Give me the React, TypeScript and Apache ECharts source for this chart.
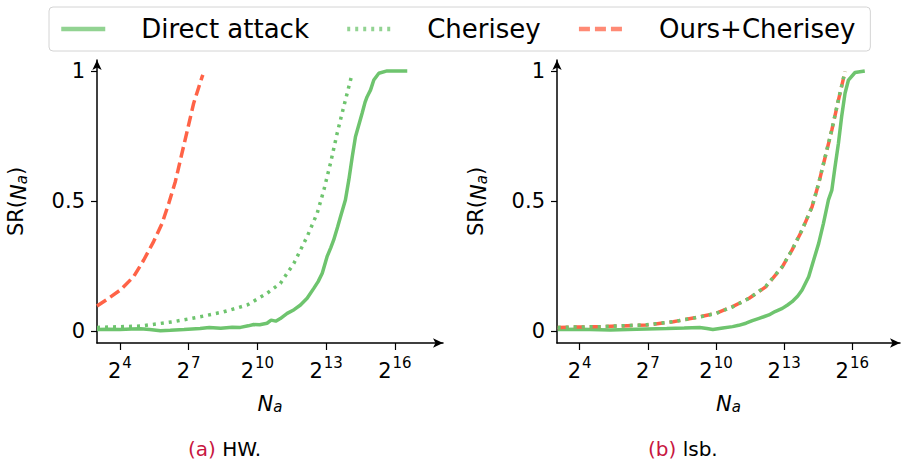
import React, { useEffect, useRef } from "react";
import * as echarts from "echarts";

const seriesNames = ["Direct attack", "Cherisey", "Ours+Cherisey"];
const xTicks = [4, 7, 10, 13, 16];
const yTicks = [0, 0.5, 1];
const captions = [["(a)", " HW."], ["(b)", " lsb."]];

// x values are log2(N_a)
const hwDirect = [
  [3.0, 0.006], [3.5, 0.007], [4.0, 0.006], [4.5, 0.008], [4.9, 0.009], [5.3, 0.006], [5.77, 0.001],
  [6.2, 0.003], [6.8, 0.006], [7.5, 0.010], [7.9, 0.014], [8.4, 0.011], [8.9, 0.015], [9.26, 0.014],
  [9.6, 0.020], [9.84, 0.025], [10.1, 0.024], [10.42, 0.030], [10.6, 0.042], [10.8, 0.038], [11.0, 0.048],
  [11.3, 0.068], [11.6, 0.082], [11.88, 0.100], [12.17, 0.126], [12.46, 0.164], [12.65, 0.19], [12.83, 0.222],
  [13.04, 0.286], [13.2, 0.32], [13.33, 0.35], [13.5, 0.40], [13.63, 0.44], [13.84, 0.504], [13.99, 0.581],
  [14.14, 0.67], [14.28, 0.747], [14.45, 0.80], [14.57, 0.837], [14.7, 0.88], [14.79, 0.901], [14.94, 0.927],
  [15.08, 0.965], [15.3, 0.991], [15.66, 1.0], [16.54, 1.0],
];
const hwCherisey = [
  [3.0, 0.014], [4.89, 0.019], [6.35, 0.036], [7.51, 0.055], [8.53, 0.074], [9.55, 0.1], [10.42, 0.145],
  [11.0, 0.183], [11.59, 0.26], [12.17, 0.363], [12.61, 0.453], [12.9, 0.542], [13.19, 0.645], [13.48, 0.76],
  [13.77, 0.863], [14.14, 0.991],
];
const hwOurs = [
  [3.0, 0.096], [3.44, 0.122], [4.02, 0.158], [4.6, 0.209], [5.04, 0.273], [5.47, 0.344], [5.84, 0.414],
  [6.13, 0.49], [6.42, 0.575], [6.64, 0.658], [6.93, 0.767], [7.22, 0.876], [7.59, 0.978], [7.62, 0.985],
];
const lsbDirect = [
  [3.03, 0.006], [4.0, 0.007], [5.35, 0.004], [6.5, 0.007], [7.83, 0.010], [8.6, 0.012], [9.28, 0.014],
  [9.6, 0.010], [9.86, 0.006], [10.3, 0.012], [10.73, 0.017], [11.0, 0.022], [11.32, 0.030], [11.6, 0.040],
  [11.9, 0.049], [12.1, 0.055], [12.33, 0.062], [12.6, 0.075], [12.92, 0.087], [13.15, 0.10], [13.35, 0.113],
  [13.6, 0.135], [13.79, 0.158], [14.08, 0.209], [14.3, 0.273], [14.52, 0.337], [14.73, 0.414], [14.95, 0.504],
  [15.10, 0.542], [15.24, 0.632], [15.39, 0.722], [15.53, 0.824], [15.68, 0.914], [15.83, 0.965],
  [16.12, 0.994], [16.55, 1.0],
];
const lsbCherisey = [
  [3.03, 0.014], [4.92, 0.017], [6.95, 0.024], [8.12, 0.036], [9.28, 0.054], [10.01, 0.068], [10.73, 0.093],
  [11.46, 0.126], [12.19, 0.172], [12.92, 0.248], [13.35, 0.312], [13.79, 0.39], [14.23, 0.478], [14.52, 0.568],
  [14.81, 0.672], [15.10, 0.775], [15.39, 0.89], [15.68, 0.998],
];
const lsbOurs = [
  [3.03, 0.014], [4.92, 0.017], [6.95, 0.023], [8.12, 0.036], [9.28, 0.055], [10.01, 0.068], [10.73, 0.094],
  [11.46, 0.126], [12.19, 0.17], [12.92, 0.247], [13.35, 0.312], [13.79, 0.388], [14.23, 0.478], [14.52, 0.568],
  [14.81, 0.67], [15.10, 0.773], [15.39, 0.888], [15.68, 0.997],
];

const GREEN = "#6ec46e";
const RED = "#ff6347";
const FONT = "DejaVu Sans";

export default function App() {
  const ref = useRef<HTMLDivElement>(null);
  useEffect(() => {
    if (!ref.current) return;
    const chart = echarts.init(ref.current, null, { renderer: "svg" });
    const grids = [
      { left: 97, top: 60, width: 346, height: 283 },
      { left: 557, top: 60, width: 343, height: 283 },
    ];
    const mkX = (i: number) => ({
      type: "value",
      gridIndex: i,
      min: 3,
      max: 18.1,
      splitLine: { show: false },
      axisLine: { onZero: false, lineStyle: { color: "#000", width: 1.5 }, symbol: ["none", "arrow"], symbolSize: [7, 10] },
      axisTick: { customValues: xTicks, length: 7, lineStyle: { color: "#000", width: 1.2 } },
      axisLabel: {
        customValues: xTicks,
        margin: 12,
        formatter: (v: number) => `{b|2}{s|${v}}`,
        rich: {
          b: { fontSize: 21, fontFamily: FONT, color: "#000", lineHeight: 26, verticalAlign: "bottom" },
          s: { fontSize: 15, fontFamily: FONT, color: "#000", lineHeight: 26, verticalAlign: "top", padding: [0, 0, 0, 1] },
        },
      },
      name: "{i|N}{sub|a}",
      nameLocation: "middle",
      nameGap: 45,
      nameTextStyle: {
        rich: {
          i: { fontSize: 21, fontStyle: "italic", fontFamily: FONT, color: "#000", lineHeight: 26, verticalAlign: "bottom" },
          sub: { fontSize: 15, fontStyle: "italic", fontFamily: FONT, color: "#000", lineHeight: 22, verticalAlign: "bottom" },
        },
      },
    });
    const mkY = (i: number) => ({
      type: "value",
      gridIndex: i,
      min: -0.046,
      max: 1.042,
      splitLine: { show: false },
      axisLine: { onZero: false, lineStyle: { color: "#000", width: 1.5 }, symbol: ["none", "arrow"], symbolSize: [7, 10] },
      axisTick: { customValues: yTicks, length: 6, lineStyle: { color: "#000", width: 1.2 } },
      axisLabel: {
        customValues: yTicks,
        margin: 12,
        fontSize: 21,
        fontFamily: FONT,
        color: "#000",
        formatter: (v: number) => (v === 0 ? "0" : v === 1 ? "1" : String(v)),
      },
      name: "SR({i|N}{sub|a})",
      nameLocation: "middle",
      nameRotate: 90,
      nameGap: 68,
      nameTextStyle: {
        fontSize: 21,
        fontFamily: FONT,
        color: "#000",
        rich: {
          i: { fontSize: 21, fontStyle: "italic", fontFamily: FONT, color: "#000", lineHeight: 26, verticalAlign: "bottom" },
          sub: { fontSize: 15, fontStyle: "italic", fontFamily: FONT, color: "#000", lineHeight: 22, verticalAlign: "bottom" },
        },
      },
    });
    const line = (name: string, data: number[][], idx: number, color: string, type: any, z: number) => ({
      name,
      type: "line",
      xAxisIndex: idx,
      yAxisIndex: idx,
      data,
      symbol: "none",
      showSymbol: false,
      z,
      lineStyle: { color, width: 3.5, type, cap: "butt" },
      itemStyle: { color },
    });
    const dotted = [3, 5];
    const dashed = [11, 5];
    chart.setOption({
      animation: false,
      textStyle: { fontFamily: FONT },
      grid: grids,
      xAxis: [mkX(0), mkX(1)],
      yAxis: [mkY(0), mkY(1)],
      legend: {
        data: seriesNames,
        left: 49,
        top: 7,
        padding: [9, 15, 9, 10],
        itemGap: 36,
        itemWidth: 44,
        itemHeight: 14,
        itemStyle: { opacity: 0 },
        lineStyle: { width: 4.5, opacity: 0.75 },
        borderColor: "#d4d4d4",
        borderWidth: 1,
        borderRadius: 4,
        textStyle: { fontSize: 26, fontFamily: FONT, color: "#000", padding: [0, 0, 0, 31] },
      },
      series: [
        line(seriesNames[0], hwDirect, 0, GREEN, "solid", 3),
        line(seriesNames[1], hwCherisey, 0, GREEN, dotted, 4),
        line(seriesNames[2], hwOurs, 0, RED, dashed, 5),
        line(seriesNames[0], lsbDirect, 1, GREEN, "solid", 3),
        line(seriesNames[2], lsbOurs, 1, RED, dashed, 4),
        line(seriesNames[1], lsbCherisey, 1, GREEN, dotted, 5),
      ],
      graphic: captions.map((c, i) => ({
        type: "text",
        x: i === 0 ? 188 : 648,
        y: 449,
        style: {
          text: `{r|${c[0]}}${c[1]}`,
          fontSize: 20,
          fontFamily: FONT,
          fill: "#000",
          verticalAlign: "middle",
          textVerticalAlign: "middle",
          rich: { r: { fill: "#c8163f", fontSize: 20, fontFamily: FONT } },
        },
      })),
    });
    return () => chart.dispose();
  }, []);
  return <div ref={ref} style={{ position: "absolute", left: 0, top: 0, width: 903, height: 461 }} />;
}
